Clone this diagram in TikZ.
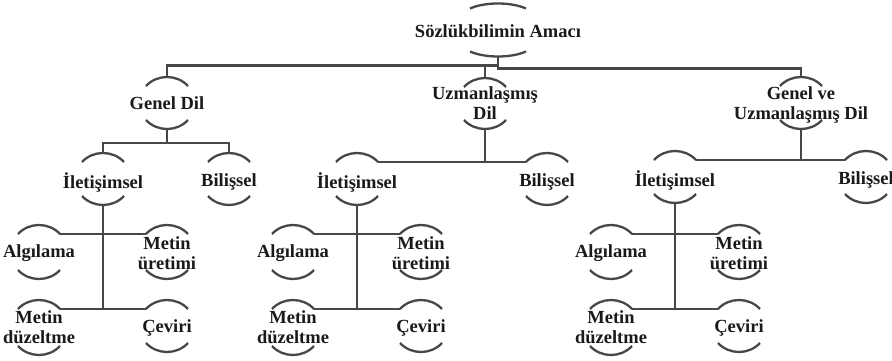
\documentclass[tikz,border=0pt]{standalone}
\usepackage{fontspec}
\setmainfont{Liberation Serif}
\usetikzlibrary{calc}
\definecolor{lnc}{HTML}{474747}
\definecolor{txc}{HTML}{1A1A1A}
\newcommand\arcHW{21}
\newcommand\arcSG{9}
\newcommand\mknode[6]{%
  \node[lbl] (#1) at (#2,#3) {#6};
  \coordinate (#1-tl) at ({#2-\arcHW},#4);
  \coordinate (#1-tr) at ({#2+\arcHW},#4);
  \coordinate (#1-t) at (#2,{#4-\arcSG});
  \coordinate (#1-bl) at ({#2-\arcHW},#5);
  \coordinate (#1-br) at ({#2+\arcHW},#5);
  \coordinate (#1-b) at (#2,{#5+\arcSG});
  \draw[brk] (#1-tl) .. controls +({0.53*\arcHW},{-1.333*\arcSG}) and +({-0.53*\arcHW},{-1.333*\arcSG}) .. (#1-tr);
  \draw[brk] (#1-bl) .. controls +({0.53*\arcHW},{1.333*\arcSG}) and +({-0.53*\arcHW},{1.333*\arcSG}) .. (#1-br);
}
\begin{document}
\begin{tikzpicture}[x=1pt,y=-1pt,
  lbl/.style={text=txc,font=\fontsize{18.5}{20}\selectfont\bfseries,align=center,inner sep=0pt},
  brk/.style={draw=lnc,line width=2.3pt},
  conn/.style={draw=lnc,line width=2.6pt}]
\fill[white] (0,0) rectangle (892,361);
\useasboundingbox (0,0) rectangle (892,361);
% root
\renewcommand\arcHW{28}\renewcommand\arcSG{5}
\mknode{root}{498}{31}{8.5}{51.5}{Sözlükbilimin Amacı}
\renewcommand\arcHW{21}\renewcommand\arcSG{9}
% level 1
\mknode{genel}{167}{103}{86}{120}{Genel Dil}
\mknode{uzm}{485}{103}{87}{120}{Uzmanlaşmış\\Dil}
\mknode{gvu}{801}{105}{86}{120}{Genel ve\\Uzmanlaşmış Dil}
% level 2
\mknode{il1}{103}{182}{162}{196}{İletişimsel}
\mknode{bil1}{229}{182}{162}{196}{Bilişsel}
\mknode{il2}{357}{182}{162}{196}{İletişimsel}
\mknode{bil2}{547}{182}{162}{196}{Bilişsel}
\mknode{il3}{675}{180}{160}{194}{İletişimsel}
\mknode{bil3}{866}{180}{160}{194}{Bilişsel}
% level 3
\foreach \g/\V in {1/103,2/357,3/675}{
  \mknode{alg\g}{\V-64}{253}{234}{270}{Algılama}
  \mknode{mu\g}{\V+64}{253}{234}{270}{Metin\\üretimi}
  \mknode{md\g}{\V-64}{327}{309}{346}{Metin\\düzeltme}
  \mknode{cev\g}{\V+64}{328}{309}{343}{Çeviri}
  \draw[conn] (il\g-b) -- (il\g-b |- md\g-tr);
  \draw[conn] (alg\g-tr) -- (mu\g-tl);
  \draw[conn] (md\g-tr) -- (cev\g-tl);
}
% connectors top
\coordinate (jl) at (498,65.5);
\draw[conn] (root-b) -- ++(0,12) -| (gvu-t);
\draw[conn] (genel-t) |- (jl);
\draw[conn] (uzm-t) -- (uzm-t |- jl);
% group 1
\coordinate (h1) at (167,143);
\draw[conn] (genel-b) -- (h1);
\draw[conn] (il1-t) |- (h1);
\draw[conn] (bil1-t) |- (h1);
% group 2
\draw[conn] (uzm-b) -- (uzm-b |- il2-tr);
\draw[conn] (il2-tr) -- (bil2-tl);
% group 3
\draw[conn] (gvu-b) -- (gvu-b |- il3-tr);
\draw[conn] (il3-tr) -- (bil3-tl);
\end{tikzpicture}
\end{document}
